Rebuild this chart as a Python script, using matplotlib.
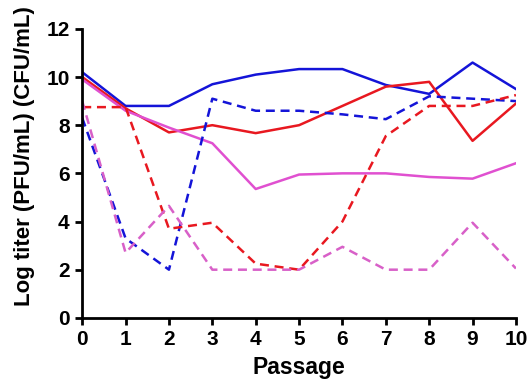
import numpy as np
import matplotlib.pyplot as plt

plt.rcParams['font.family'] = ['Liberation Sans', 'DejaVu Sans']
plt.rcParams['font.weight'] = 'bold'

passage = list(range(11))

# solid lines
blue_solid = [10.2, 8.8, 8.8, 9.7, 10.1, 10.33, 10.33, 9.67, 9.3, 10.6, 9.5]
red_solid = [10.0, 8.7, 7.7, 8.0, 7.67, 8.0, 8.8, 9.6, 9.8, 7.35, 8.9]
magenta_solid = [9.9, 8.6, 7.9, 7.25, 5.35, 5.95, 6.0, 6.0, 5.85, 5.78, 6.42]

# dashed lines
blue_dash = [8.3, 3.3, 2.0, 9.1, 8.6, 8.6, 8.45, 8.25, 9.2, 9.1, 9.0]
red_dash = [8.75, 8.75, 3.7, 3.95, 2.25, 2.0, 4.0, 7.55, 8.8, 8.8, 9.25]
magenta_dash = [9.0, 2.7, 4.65, 2.0, 2.0, 2.0, 2.95, 2.0, 2.0, 3.95, 2.05]

fig = plt.figure(figsize=(5.27, 3.9), dpi=100)
ax = fig.add_axes([0.156, 0.185, 0.823, 0.741])

blue = '#1414d8'
red = '#e81820'
magenta = '#e050d0'
lw = 1.8
dash = (0, (3.6, 2.3))

ax.plot(passage, blue_solid, color=blue, lw=lw)
ax.plot(passage, red_solid, color=red, lw=lw)
ax.plot(passage, magenta_solid, color=magenta, lw=lw)
ax.plot(passage, blue_dash, color=blue, lw=lw, linestyle=dash)
ax.plot(passage, red_dash, color=red, lw=lw, linestyle=dash)
ax.plot(passage, magenta_dash, color='#d860c8', lw=lw, linestyle=dash)

ax.set_xlim(0, 10)
ax.set_ylim(0, 12)
ax.set_xticks(range(0, 11))
ax.set_yticks(range(0, 13, 2))
for s in ['top', 'right']:
    ax.spines[s].set_visible(False)
for s in ['left', 'bottom']:
    ax.spines[s].set_linewidth(2)
ax.tick_params(width=2, length=5, labelsize=15, direction='out', pad=4)
for lab in ax.get_xticklabels() + ax.get_yticklabels():
    lab.set_fontweight('bold')

ax.set_xlabel('Passage', fontsize=16.5, fontweight='bold', labelpad=5)
ax.set_ylabel('Log titer (PFU/mL) (CFU/mL)', fontsize=16, fontweight='bold')
ax.yaxis.set_label_coords(-0.108, 0.56)

fig.savefig('out.png', dpi=100)
